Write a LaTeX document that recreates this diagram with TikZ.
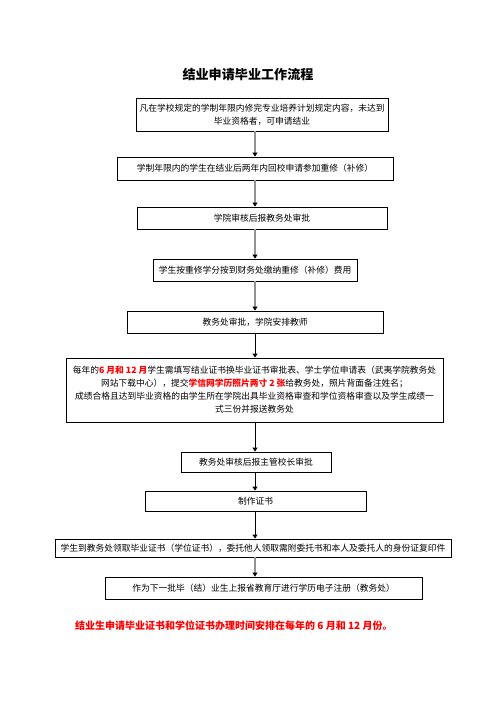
\documentclass[tikz,border=0pt]{standalone}
\usepackage{fontspec}
\setmainfont{Noto Sans CJK SC}
\usetikzlibrary{arrows.meta}

\tikzset{
  stepbox/.style={draw, line width=0.9pt, align=center, inner sep=0pt,
    font=\fontsize{8.75}{13}\selectfont},
  flow/.style={line width=1.8pt, gray!85, -{Triangle[length=4pt,width=5pt,color=black]}},
  flowdark/.style={line width=1pt, black, -{Triangle[length=4pt,width=5pt]}},
}
\newcommand{\redbf}[1]{\textcolor{red}{\bfseries #1}}

\begin{document}
\begin{tikzpicture}[x=1pt,y=-1pt]
    \useasboundingbox (0,0) rectangle (496,702);
    \coordinate (ax) at (255,0);
    % title
    \node[font=\fontsize{13.1}{16}\selectfont\bfseries] (title) at (248,74) {结业申请毕业工作流程};
    % steps
    \node[stepbox, minimum width=252pt, minimum height=33pt] (apply) at (262,114.5)
      {凡在学校规定的学制年限内修完专业培养计划规定内容，未达到\\毕业资格者，可申请结业};
    \node[stepbox, minimum width=276pt, minimum height=23pt] (retake) at (255,168.5)
      {学制年限内的学生在结业后两年内回校申请参加重修（补修）};
    \node[stepbox, minimum width=250pt, minimum height=22pt] (college) at (262,218)
      {学院审核后报教务处审批};
    \node[stepbox, minimum width=204pt, minimum height=22pt] (fee) at (255,270)
      {学生按重修学分按到财务处缴纳重修（补修）费用};
    \node[stepbox, minimum width=256pt, minimum height=22pt] (teacher) at (255,322)
      {教务处审批，学院安排教师};
    \node[stepbox, minimum width=377pt, minimum height=64pt] (forms) at (254.5,390)
      {每年的\redbf{6 月和 12 月}学生需填写结业证书换毕业证书审批表、学士学位申请表（武夷学院教务处\\
       网站下载中心），提交\redbf{学信网学历照片两寸 2 张}给教务处，照片背面备注姓名；\\
       成绩合格且达到毕业资格的由学生所在学院出具毕业资格审查和学位资格审查以及学生成绩一\\
       式三份并报送教务处};
    \node[stepbox, minimum width=150pt, minimum height=20pt] (head) at (256,462)
      {教务处审核后报主管校长审批};
    \node[stepbox, minimum width=221pt, minimum height=20pt] (make) at (255.5,501)
      {制作证书};
    \node[stepbox, minimum width=396pt, minimum height=18pt] (collect) at (253,548)
      {学生到教务处领取毕业证书（学位证书），委托他人领取需附委托书和本人及委托人的身份证复印件};
    \node[stepbox, minimum width=317pt, minimum height=22pt] (register) at (263.5,588)
      {作为下一批毕（结）业生上报省教育厅进行学历电子注册（教务处）};
    % note
    \node[anchor=west, inner sep=0pt, text=red, font=\fontsize{10}{12}\selectfont\bfseries] (note) at (75,626)
      {结业生申请毕业证书和学位证书办理时间安排在每年的 6 月和 12 月份。};
    % arrows
    \draw[flow] (apply.south -| ax) -- (retake.north -| ax);
    \draw[flow] (retake.south -| ax) -- (college.north -| ax);
    \draw[flow] (college.south -| ax) -- (fee.north -| ax);
    \draw[flow] (fee.south -| ax) -- (teacher.north -| ax);
    \draw[flowdark] (teacher.south -| ax) -- (forms.north -| ax);
    \draw[flowdark] (forms.south -| ax) -- (head.north -| ax);
    \draw[flowdark] (head.south -| ax) -- (make.north -| ax);
    \draw[flowdark] (make.south -| ax) -- (collect.north -| ax);
    \draw[flow] (collect.south -| ax) -- (register.north -| ax);
\end{tikzpicture}
\end{document}
